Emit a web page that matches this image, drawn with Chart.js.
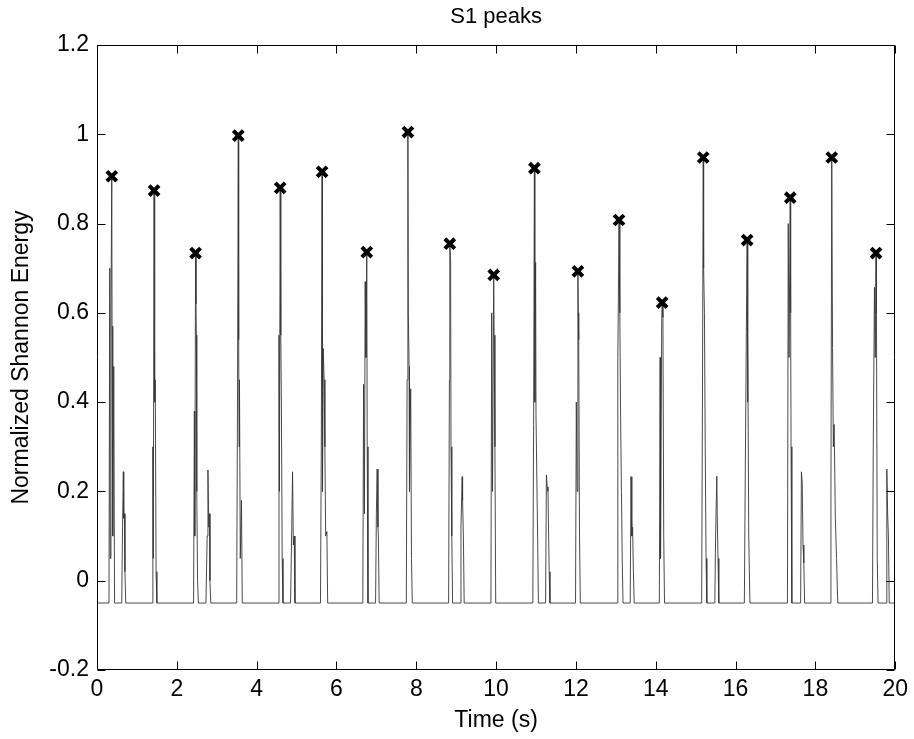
<!DOCTYPE html>
<html>
<head>
<meta charset="utf-8">
<script src="https://cdn.jsdelivr.net/npm/chart.js@4.4.1/dist/chart.umd.min.js"></script>
<style>
  html, body { margin: 0; padding: 0; background: #fff; }
  #c { display: block; }
</style>
</head>
<body>
<canvas id="c" width="914" height="739"></canvas>
<script>
// ---- data ----
const chartTitle = "S1 peaks";
const xTitle = "Time (s)";
const yTitle = "Normalized Shannon Energy";
const xTicks = [0, 2, 4, 6, 8, 10, 12, 14, 16, 18, 20];
const yTicks = [-0.2, 0, 0.2, 0.4, 0.6, 0.8, 1, 1.2];

// detected S1 peaks: time (s) and normalized energy
const peakTime  = [0.37, 1.43, 2.47, 3.54, 4.59, 5.64, 6.76, 7.79, 8.84, 9.94,
                   10.96, 12.05, 13.08, 14.16, 15.19, 16.29, 17.37, 18.41, 19.52];
const peakValue = [0.906, 0.874, 0.734, 0.997, 0.88, 0.916, 0.736, 1.005, 0.755, 0.685,
                   0.924, 0.693, 0.808, 0.623, 0.948, 0.763, 0.858, 0.948, 0.734];

// Shannon energy envelope samples: [time (s), energy]
const tracePoints = [
  [0.00,-0.05],
  [0.30,-0.05],[0.32,0.70],[0.33,0.05],[0.35,0.60],[0.37,0.906],[0.38,0.45],[0.39,0.57],[0.40,0.10],[0.42,0.48],[0.44,-0.05],
  [0.62,-0.05],[0.64,0.12],[0.66,0.244],[0.67,0.14],[0.69,0.15],[0.70,0.02],[0.72,-0.05],
  [1.38,-0.05],[1.40,0.30],[1.41,0.05],[1.43,0.874],[1.44,0.53],[1.45,0.40],[1.46,0.45],[1.48,0.02],[1.50,-0.05],
  [2.42,-0.05],[2.44,0.38],[2.45,0.10],[2.47,0.734],[2.48,0.62],[2.49,0.55],[2.50,0.20],[2.52,0.00],[2.54,-0.05],
  [2.73,-0.05],[2.76,0.10],[2.78,0.248],[2.80,0.12],[2.82,0.15],[2.83,0.00],[2.85,-0.05],
  [3.50,-0.05],[3.52,0.40],[3.54,0.997],[3.55,0.54],[3.56,0.30],[3.57,0.45],[3.59,0.05],[3.62,0.18],[3.64,-0.05],
  [4.54,-0.05],[4.56,0.55],[4.57,0.20],[4.59,0.88],[4.60,0.70],[4.61,0.55],[4.62,0.40],[4.64,0.05],[4.66,-0.05],
  [4.85,-0.05],[4.88,0.12],[4.90,0.244],[4.92,0.08],[4.94,0.10],[4.96,-0.05],
  [5.60,-0.05],[5.62,0.30],[5.64,0.916],[5.65,0.20],[5.67,0.52],[5.69,0.45],[5.71,0.30],[5.73,0.10],[5.76,0.11],[5.78,-0.05],
  [6.66,-0.05],[6.68,0.44],[6.70,0.15],[6.72,0.67],[6.74,0.50],[6.76,0.736],[6.77,0.30],[6.79,-0.05],
  [6.98,-0.05],[7.00,0.15],[7.02,0.25],[7.04,0.12],[7.05,0.10],[7.07,-0.05],
  [7.75,-0.05],[7.77,0.45],[7.79,1.005],[7.80,0.60],[7.82,0.48],[7.83,0.20],[7.86,0.43],[7.88,0.05],[7.90,-0.05],
  [8.81,-0.05],[8.83,0.45],[8.84,0.755],[8.86,0.72],[8.87,0.30],[8.89,0.10],[8.91,-0.05],
  [9.10,-0.05],[9.12,0.12],[9.15,0.233],[9.16,0.18],[9.18,0.10],[9.20,-0.05],
  [9.87,-0.05],[9.89,0.60],[9.91,0.20],[9.94,0.685],[9.95,0.55],[9.97,0.30],[9.99,-0.05],
  [10.92,-0.05],[10.94,0.35],[10.96,0.924],[10.97,0.40],[10.99,0.713],[11.00,0.37],[11.02,0.37],[11.04,0.10],[11.06,-0.05],
  [11.24,-0.05],[11.26,0.237],[11.28,0.21],[11.30,0.20],[11.33,0.02],[11.35,-0.05],
  [11.99,-0.05],[12.01,0.40],[12.03,0.20],[12.05,0.693],[12.06,0.60],[12.07,0.54],[12.09,0.10],[12.11,-0.05],
  [13.03,-0.05],[13.05,0.50],[13.07,0.70],[13.08,0.808],[13.10,0.60],[13.12,0.365],[13.14,0.20],[13.16,0.05],[13.18,-0.05],
  [13.36,-0.05],[13.38,0.233],[13.40,0.10],[13.42,0.12],[13.44,0.02],[13.46,-0.05],
  [14.09,-0.05],[14.11,0.50],[14.12,0.05],[14.15,0.58],[14.16,0.623],[14.18,0.59],[14.20,0.10],[14.22,-0.05],
  [15.15,-0.05],[15.17,0.40],[15.19,0.948],[15.20,0.70],[15.22,0.60],[15.24,0.30],[15.26,0.05],[15.28,-0.05],
  [15.48,-0.05],[15.50,0.10],[15.53,0.234],[15.54,0.15],[15.56,0.05],[15.58,-0.05],
  [16.22,-0.05],[16.24,0.20],[16.27,0.556],[16.29,0.763],[16.30,0.40],[16.31,0.54],[16.33,0.10],[16.36,-0.05],
  [17.30,-0.05],[17.32,0.80],[17.34,0.50],[17.37,0.858],[17.38,0.60],[17.39,0.30],[17.41,-0.05],
  [17.63,-0.05],[17.65,0.244],[17.67,0.22],[17.69,0.08],[17.71,0.04],[17.73,-0.05],
  [18.37,-0.05],[18.39,0.20],[18.41,0.948],[18.43,0.52],[18.45,0.30],[18.47,0.35],[18.50,0.14],[18.53,0.05],[18.56,-0.05],
  [19.43,-0.05],[19.45,0.30],[19.48,0.657],[19.50,0.50],[19.52,0.734],[19.53,0.60],[19.55,0.05],[19.57,-0.05],
  [19.77,-0.05],[19.79,0.25],[19.81,0.15],[19.83,0.10],[19.85,-0.05],
  [20.00,-0.05]
];

// ---- chart ----
const FONT = '"Liberation Sans", Arial, Helvetica, sans-serif';

const boxTicks = {
  id: 'boxTicks',
  afterDatasetsDraw(chart) {
    const { ctx, chartArea: a, scales } = chart;
    const L = Math.round(a.left) + 0.5, R = Math.round(a.right) - 0.5;
    const T = Math.round(a.top) + 0.5, B = Math.round(a.bottom) - 0.5;
    const len = 8;
    ctx.save();
    ctx.strokeStyle = '#000';
    ctx.lineWidth = 1;
    ctx.beginPath();
    ctx.rect(L, T, R - L, B - T);
    xTicks.forEach(v => {
      const px = Math.round(scales.x.getPixelForValue(v)) + 0.5;
      ctx.moveTo(px, B); ctx.lineTo(px, B - len);
      ctx.moveTo(px, T); ctx.lineTo(px, T + len);
    });
    yTicks.forEach(v => {
      const py = Math.round(scales.y.getPixelForValue(v)) + 0.5;
      ctx.moveTo(L, py); ctx.lineTo(L + len, py);
      ctx.moveTo(R, py); ctx.lineTo(R - len, py);
    });
    ctx.stroke();
    ctx.restore();
  }
};

new Chart(document.getElementById('c'), {
  type: 'scatter',
  data: {
    datasets: [
      {
        label: 'Peaks',
        data: peakTime.map((t, i) => ({ x: t, y: peakValue[i] })),
        pointStyle: 'crossRot',
        pointRadius: 7,
        pointBorderWidth: 4,
        borderColor: '#000',
        backgroundColor: '#000',
        showLine: false,
        order: 0
      },
      {
        label: 'Shannon energy',
        data: tracePoints.map(p => ({ x: p[0], y: p[1] })),
        showLine: true,
        pointRadius: 0,
        borderWidth: 1,
        borderColor: 'rgba(55,55,55,0.9)',
        tension: 0,
        order: 1
      }
    ]
  },
  options: {
    responsive: false,
    devicePixelRatio: 1,
    animation: false,
    layout: { padding: { left: 0, right: 16, top: 0, bottom: 0 } },
    plugins: {
      legend: { display: false },
      tooltip: { enabled: false },
      title: {
        display: true,
        fullSize: false,
        text: chartTitle,
        color: '#000',
        font: { family: FONT, size: 22, weight: 'normal' },
        padding: { top: 4, bottom: 14.6 }
      }
    },
    scales: {
      x: {
        type: 'linear',
        min: 0, max: 20,
        afterBuildTicks: s => { s.ticks = xTicks.map(v => ({ value: v })); },
        afterFit: s => { s.height = 69; },
        grid: { display: false, drawTicks: false },
        border: { display: false },
        ticks: {
          color: '#000',
          font: { family: FONT, size: 23 },
          padding: 6,
          maxRotation: 0,
          callback: v => String(v)
        },
        title: {
          display: true,
          text: xTitle,
          color: '#000',
          font: { family: FONT, size: 23 },
          padding: { top: 0, bottom: 5 }
        }
      },
      y: {
        type: 'linear',
        min: -0.2, max: 1.2,
        afterBuildTicks: s => { s.ticks = yTicks.map(v => ({ value: v })); },
        afterFit: s => { s.width = 97; },
        grid: { display: false, drawTicks: false },
        border: { display: false },
        ticks: {
          color: '#000',
          font: { family: FONT, size: 23 },
          padding: 8,
          callback: v => String(Math.round(v * 10) / 10)
        },
        title: {
          display: true,
          text: yTitle,
          color: '#000',
          font: { family: FONT, size: 23 },
          padding: { top: 8, bottom: 0 }
        }
      }
    }
  },
  plugins: [boxTicks]
});
</script>
</body>
</html>
